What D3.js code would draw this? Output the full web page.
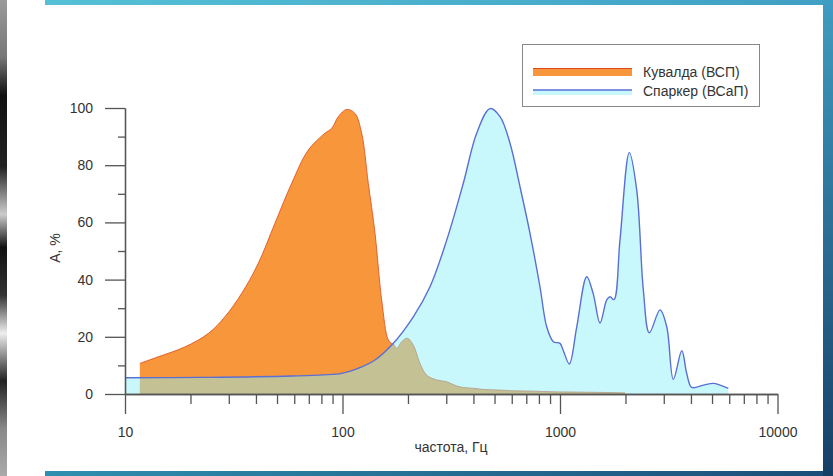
<!DOCTYPE html>
<html>
<head>
<meta charset="utf-8">
<script src="https://cdn.jsdelivr.net/npm/d3@7"></script>
<style>
html,body{margin:0;padding:0;background:#fff;}
svg{display:block;font-family:"Liberation Sans",Arial,sans-serif;}
</style>
</head>
<body>
<svg id="chart" width="833" height="476"></svg>
<script>
// Кувалда (ВСП): frequency (Hz) and amplitude (%)
const hammerFreq = [11.7,14.2,18.9,24.2,28.8,34.4,41.0,48.9,58.4,69.6,83.1,89.2,95.7,104.5,114.1,122.5,131.4,141.1,151.4,162.4,168.4,171.3,177.6,187.2,198.6,211.6,227.2,243.8,271.1,301.4,335.1,359.3,399.5,444.2,520,620,750,900,1100,1400,1700,1990];
const hammerAmp  = [10.7,13.0,16.5,21.2,27.0,35.2,45.7,59.7,73.7,85.3,91.2,92.9,97.0,99.5,98.1,91.2,73.7,56.2,32.9,18.9,17.7,17.5,16.0,18.3,19.5,17.1,10.7,6.6,4.9,4.3,2.8,2.3,2.0,1.6,1.4,1.1,1.0,0.8,0.7,0.6,0.5,0.4];

// Спаркер (ВСаП)
const sparkerFreq = [10,22.1,58.4,99.2,118.2,141.1,168.4,211.6,252.5,301.4,359.3,414,476.5,530,589,654.6,727.8,809,868.7,931.6,1000,1032,1104,1194,1327,1422,1527,1640,1698,1771,1888,2083,2253,2416,2575,2884,3096,3319,3630,3825,4033,4560,5070,5445,5940];
const sparkerAmp  = [5.7,5.8,6.3,7.2,9.0,11.9,17.1,27.0,37.5,53.8,73.7,91.2,99.8,97.0,87.7,72.5,56.2,37.5,23.5,18.3,17.7,15.5,10.5,23.5,41.0,35.0,24.8,32.9,34.0,33.0,54.0,84.4,71.3,36.4,21.4,29.4,23.5,5.1,15.1,7.2,2.3,3.1,3.7,3.1,2.0];

const xMajorTicks = [10,100,1000,10000];
const yMajorTicks = [0,20,40,60,80,100];
const yMinorTicks = [10,30,50,70,90];
const seriesNames = ["Кувалда (ВСП)","Спаркер (ВСаП)"];
const xTitle = "частота, Гц";
const yTitle = "A, %";

const svg = d3.select("#chart");

// ---- frame decoration ----
const defs = svg.append("defs");
const gTop = defs.append("linearGradient").attr("id","gTop");
gTop.append("stop").attr("offset","0").attr("stop-color","#56c0d6");
gTop.append("stop").attr("offset","1").attr("stop-color","#3f9fc4");
const gBot = defs.append("linearGradient").attr("id","gBot");
gBot.append("stop").attr("offset","0").attr("stop-color","#2f8fae");
gBot.append("stop").attr("offset","1").attr("stop-color","#1a4d78");
const gRight = defs.append("linearGradient").attr("id","gRight").attr("x1",0).attr("y1",0).attr("x2",0).attr("y2",1);
gRight.append("stop").attr("offset","0").attr("stop-color","#3f9cc2");
gRight.append("stop").attr("offset","1").attr("stop-color","#163f66");
const gLeft = defs.append("linearGradient").attr("id","gLeft").attr("x1",0).attr("y1",0).attr("x2",0).attr("y2",1);
[[0,"#9a9a9a"],[0.12,"#777"],[0.2,"#111"],[0.35,"#222"],[0.45,"#ccc"],[0.52,"#111"],[0.62,"#333"],[0.7,"#eee"],[0.8,"#222"],[0.9,"#888"],[1,"#aaa"]]
  .forEach(s=>gLeft.append("stop").attr("offset",s[0]).attr("stop-color",s[1]));

svg.append("rect").attr("x",0).attr("y",0).attr("width",7).attr("height",476).attr("fill","url(#gLeft)");
svg.append("rect").attr("x",45).attr("y",0).attr("width",788).attr("height",5).attr("fill","url(#gTop)");
svg.append("rect").attr("x",45).attr("y",471).attr("width",788).attr("height",5).attr("fill","url(#gBot)");
svg.append("rect").attr("x",823).attr("y",0).attr("width",10).attr("height",476).attr("fill","url(#gRight)");

// ---- scales ----
const x = d3.scaleLog().domain([10,10000]).range([125,777.5]);
const y = d3.scaleLinear().domain([0,100]).range([394,108]);

const hammer = hammerFreq.map((f,i)=>({f, v:hammerAmp[i]}));
const sparker = sparkerFreq.map((f,i)=>({f, v:sparkerAmp[i]}));

const curve = d3.curveCatmullRom.alpha(0.5);
const area = d3.area().x(d=>x(d.f)).y0(y(0)).y1(d=>y(d.v)).curve(curve);
const line = d3.line().x(d=>x(d.f)).y(d=>y(d.v)).curve(curve);

const cOrange = "#f7963a", cOrangeStroke = "#db4a1c";
const cCyan = "rgb(140,240,249)", cyanOpacity = 0.48, cBlue = "#5a6fd6";

// orange area
svg.append("path").datum(hammer).attr("d",area).attr("fill",cOrange);
svg.append("path").datum(hammer).attr("d",line).attr("fill","none").attr("stroke",cOrangeStroke).attr("stroke-width",1).attr("stroke-opacity",0.8);
// cyan area on top, semi-transparent
svg.append("path").datum(sparker).attr("d",area).attr("fill",cCyan).attr("fill-opacity",cyanOpacity);
svg.append("path").datum(sparker).attr("d",line).attr("fill","none").attr("stroke",cBlue).attr("stroke-width",1.4);

// ---- axes ----
const axisColor = "#555", textColor = "#333";
const minorX = [];
for (let d=10; d<10000; d*=10) for (let k=2;k<=9;k++) minorX.push(d*k);

function styleAxis(g){
  g.selectAll(".domain").attr("stroke",axisColor).attr("stroke-width",1.3);
  g.selectAll(".tick line").attr("stroke",axisColor).attr("stroke-width",1.3);
  g.selectAll(".tick text").attr("fill",textColor).attr("font-size","14px").attr("font-family","'Liberation Sans',Arial,sans-serif");
}

const gxMinor = svg.append("g").attr("transform",`translate(0,${y(0)})`)
  .call(d3.axisBottom(x).tickValues(minorX).tickSize(10).tickSizeOuter(0).tickFormat(""));
styleAxis(gxMinor);
const gxMajor = svg.append("g").attr("transform",`translate(0,${y(0)})`)
  .call(d3.axisBottom(x).tickValues(xMajorTicks).tickSize(20).tickSizeOuter(0).tickPadding(13).tickFormat(d3.format("d")));
styleAxis(gxMajor);

const gyMinor = svg.append("g").attr("transform",`translate(${x(10)},0)`)
  .call(d3.axisLeft(y).tickValues(yMinorTicks).tickSize(7).tickSizeOuter(0).tickFormat(""));
styleAxis(gyMinor);
const gyMajor = svg.append("g").attr("transform",`translate(${x(10)},0)`)
  .call(d3.axisLeft(y).tickValues(yMajorTicks).tickSize(20).tickSizeOuter(0).tickPadding(12));
styleAxis(gyMajor);

// axis titles
svg.append("text").attr("x",451).attr("y",452).attr("text-anchor","middle")
  .attr("font-size","14px").attr("fill",textColor).text(xTitle);
svg.append("text").attr("transform","translate(60,248) rotate(-90)").attr("text-anchor","middle")
  .attr("font-size","14px").attr("fill",textColor).text(yTitle);

// ---- legend ----
const lg = svg.append("g");
lg.append("rect").attr("x",522.5).attr("y",44.5).attr("width",237).attr("height",62)
  .attr("fill","#fff").attr("stroke","#888").attr("stroke-width",1);
lg.append("rect").attr("x",533).attr("y",68).attr("width",99).attr("height",8).attr("fill",cOrange);
lg.append("line").attr("x1",533).attr("x2",632).attr("y1",68.5).attr("y2",68.5).attr("stroke",cOrangeStroke).attr("stroke-width",1.2);
lg.append("rect").attr("x",533).attr("y",90).attr("width",99).attr("height",5).attr("fill",cCyan).attr("fill-opacity",cyanOpacity);
lg.append("line").attr("x1",533).attr("x2",632).attr("y1",90).attr("y2",90).attr("stroke",cBlue).attr("stroke-width",1.3);
lg.selectAll("text.leg").data(seriesNames).join("text").attr("class","leg")
  .attr("x",643).attr("y",(d,i)=>72+i*19).attr("dy","0.35em")
  .attr("font-size","14px").attr("fill",textColor).text(d=>d);
</script>
</body>
</html>
